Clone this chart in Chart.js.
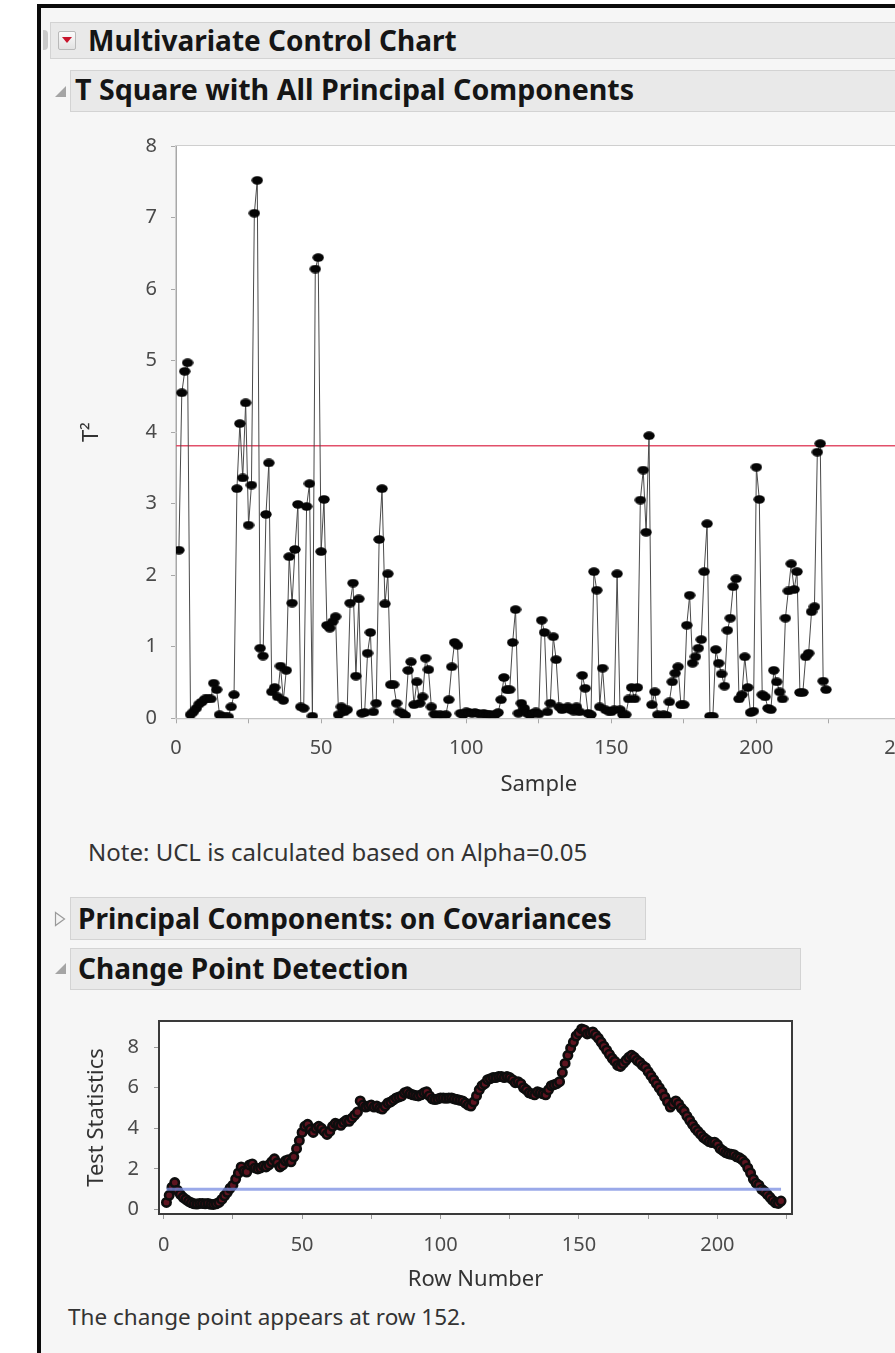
<!DOCTYPE html>
<html>
<head>
<meta charset="utf-8">
<script src="https://cdn.jsdelivr.net/npm/chart.js@4.4.1/dist/chart.umd.min.js"></script>
<style>
  html, body { margin: 0; padding: 0; width: 895px; height: 1353px; overflow: hidden; background: #ffffff; font-family: "Noto Sans", "Open Sans", sans-serif; }
  .abs { position: absolute; }
  #frame { left: 37px; top: 4px; width: 900px; height: 1400px; border-left: 4px solid #0b0b0b; border-top: 4px solid #0b0b0b; background: #f6f6f6; }
  .bar { position: absolute; background: #e9e9e9; border: 1px solid #d3d3d3; box-sizing: border-box; font-weight: 700; color: #151515; white-space: nowrap; line-height: 1; font-size: 28px; }
  .bar span { position: absolute; left: 6px; top: 50%; transform: translateY(-55%); }
  .note { position: absolute; color: #333; line-height: 1; white-space: nowrap; }
  canvas { position: absolute; }
</style>
</head>
<body>
<div id="frame" class="abs"></div>

<!-- report outline headers -->
<div class="abs" style="left:43px;top:30px;width:5px;height:20px;background:#c9c9c9;border-radius:0 4px 4px 0;"></div>
<div class="bar" style="left:50px;top:22px;width:860px;height:37px;">
  <span style="left:37px;">Multivariate Control Chart</span>
</div>
<div class="abs" style="left:58px;top:31px;width:16px;height:17px;border:1px solid #b9b9b9;border-radius:2px;background:linear-gradient(#fbfbfb,#e2e2e2);"></div>
<div class="abs" style="left:62px;top:37px;width:0;height:0;border-left:5px solid transparent;border-right:5px solid transparent;border-top:6px solid #c8142c;"></div>

<div class="abs" style="left:55px;top:86px;width:0;height:0;border-left:11px solid transparent;border-bottom:11px solid #a5a5a5;"></div>
<div class="bar" style="left:70px;top:70px;width:840px;height:42px;font-size:28.6px;">
  <span style="left:4px;">T Square with All Principal Components</span>
</div>

<div class="note" style="left:88px;top:840px;font-size:24px;">Note: UCL is calculated based on Alpha=0.05</div>

<svg class="abs" style="left:54px;top:911px;" width="12" height="16"><polygon points="1.5,1.5 10.5,8 1.5,14.5" fill="#f4f4f4" stroke="#9a9a9a" stroke-width="1.2"/></svg>
<div class="bar" style="left:70px;top:897px;width:576px;height:43px;">
  <span style="left:7px;">Principal Components: on Covariances</span>
</div>

<div class="abs" style="left:55px;top:963px;width:0;height:0;border-left:11px solid transparent;border-bottom:11px solid #a5a5a5;"></div>
<div class="bar" style="left:70px;top:948px;width:731px;height:42px;">
  <span style="left:7px;">Change Point Detection</span>
</div>

<div class="note" style="left:68px;top:1306px;font-size:22.5px;">The change point appears at row 152.</div>

<canvas id="tsq" style="left:40px;top:120px;" width="910" height="700"></canvas>
<canvas id="cpd" style="left:40px;top:995px;" width="800" height="300"></canvas>

<script>
// T-square statistic for samples 1..224
const tSquare = [
  2.35, 4.55, 4.85, 4.97, 0.05, 0.09, 0.14, 0.20, 0.23, 0.27,
  0.28, 0.27, 0.49, 0.40, 0.05, 0.02, 0.02, 0.02, 0.16, 0.33,
  3.21, 4.12, 3.36, 4.41, 2.70, 3.26, 7.06, 7.52, 0.98, 0.87,
  2.85, 3.57, 0.37, 0.43, 0.30, 0.73, 0.25, 0.67, 2.26, 1.61,
  2.36, 2.99, 0.16, 0.14, 2.96, 3.28, 0.03, 6.28, 6.44, 2.33,
  3.06, 1.30, 1.26, 1.35, 1.42, 0.05, 0.16, 0.09, 0.12, 1.61,
  1.89, 0.59, 1.67, 0.07, 0.08, 0.91, 1.20, 0.09, 0.21, 2.50,
  3.21, 1.60, 2.02, 0.47, 0.47, 0.21, 0.09, 0.07, 0.04, 0.67,
  0.79, 0.19, 0.51, 0.21, 0.30, 0.84, 0.68, 0.16, 0.06, 0.03,
  0.05, 0.04, 0.05, 0.26, 0.72, 1.06, 1.02, 0.07, 0.05, 0.09,
  0.08, 0.07, 0.08, 0.07, 0.06, 0.07, 0.05, 0.06, 0.04, 0.05,
  0.08, 0.26, 0.57, 0.40, 0.40, 1.06, 1.52, 0.07, 0.21, 0.14,
  0.07, 0.05, 0.07, 0.09, 0.06, 1.37, 1.20, 0.09, 0.21, 1.14,
  0.82, 0.16, 0.12, 0.14, 0.16, 0.12, 0.10, 0.16, 0.09, 0.60,
  0.42, 0.07, 0.05, 2.05, 1.79, 0.16, 0.70, 0.12, 0.10, 0.09,
  0.12, 2.02, 0.12, 0.05, 0.05, 0.27, 0.43, 0.27, 0.43, 3.05,
  3.47, 2.60, 3.95, 0.19, 0.37, 0.05, 0.03, 0.05, 0.04, 0.23,
  0.51, 0.63, 0.72, 0.19, 0.19, 1.30, 1.72, 0.77, 0.86, 0.98,
  1.10, 2.05, 2.72, 0.03, 0.03, 0.96, 0.77, 0.62, 0.45, 1.23,
  1.40, 1.84, 1.95, 0.27, 0.33, 0.86, 0.43, 0.08, 0.10, 3.51,
  3.06, 0.33, 0.30, 0.14, 0.12, 0.67, 0.51, 0.37, 0.27, 1.40,
  1.78, 2.16, 1.80, 2.05, 0.36, 0.36, 0.86, 0.91, 1.49, 1.56,
  3.72, 3.84, 0.52, 0.40
];
const tSquareUCL = 3.81;
const sampleTicks = [0, 25, 50, 75, 100, 125, 150, 175, 200, 225, 250];
const tSquareTicks = [0, 1, 2, 3, 4, 5, 6, 7, 8];

// change point test statistic for rows 1..223
const testStatistic = [
  0.35, 0.70, 1.10, 1.33, 0.95, 0.75, 0.60, 0.50, 0.40, 0.33,
  0.28, 0.27, 0.30, 0.30, 0.28, 0.30, 0.26, 0.25, 0.28, 0.35,
  0.50, 0.68, 0.85, 1.05, 1.20, 1.50, 1.80, 2.10, 1.90, 1.85,
  2.20, 2.25, 2.05, 2.00, 2.05, 2.15, 2.10, 2.20, 2.35, 2.50,
  2.30, 2.10, 2.20, 2.40, 2.45, 2.35, 2.60, 3.00, 3.40, 3.80,
  4.10, 4.20, 3.95, 3.80, 4.00, 4.10, 4.00, 3.85, 3.70, 3.85,
  4.10, 4.25, 4.20, 4.15, 4.30, 4.40, 4.35, 4.50, 4.65, 4.80,
  5.35, 5.15, 5.05, 5.10, 5.15, 5.05, 5.10, 5.00, 4.95, 5.10,
  5.25, 5.30, 5.40, 5.50, 5.55, 5.60, 5.75, 5.80, 5.70, 5.65,
  5.62, 5.60, 5.65, 5.75, 5.80, 5.60, 5.45, 5.42, 5.45, 5.50,
  5.50, 5.48, 5.50, 5.50, 5.45, 5.42, 5.38, 5.35, 5.25, 5.15,
  5.10, 5.30, 5.60, 5.90, 6.10, 6.20, 6.40, 6.45, 6.50, 6.50,
  6.55, 6.55, 6.50, 6.55, 6.50, 6.40, 6.25, 6.30, 6.20, 6.00,
  5.90, 5.75, 5.70, 5.65, 5.80, 5.75, 5.70, 5.65, 5.90, 6.10,
  6.15, 6.20, 6.30, 6.75, 7.20, 7.60, 7.95, 8.25, 8.55, 8.70,
  8.90, 8.85, 8.65, 8.70, 8.75, 8.60, 8.45, 8.25, 8.05, 7.85,
  7.65, 7.45, 7.30, 7.10, 7.05, 7.20, 7.35, 7.50, 7.60, 7.50,
  7.35, 7.25, 7.10, 7.00, 6.80, 6.60, 6.40, 6.20, 6.00, 5.80,
  5.55, 5.30, 5.05, 5.20, 5.35, 5.20, 5.00, 4.85, 4.60, 4.40,
  4.20, 4.00, 3.85, 3.70, 3.55, 3.45, 3.35, 3.30, 3.32, 3.20,
  3.00, 2.90, 2.80, 2.75, 2.72, 2.70, 2.60, 2.55, 2.45, 2.30,
  2.05, 1.80, 1.50, 1.30, 1.20, 1.00, 0.90, 0.75, 0.60, 0.45,
  0.33, 0.30, 0.42
];
const changeThreshold = 1.0;
const rowTicks = [0, 25, 50, 75, 100, 125, 150, 175, 200, 225];
const statTicks = [0, 1, 2, 3, 4, 5, 6, 7, 8, 9];

const FONT = '"Noto Sans", "Open Sans", sans-serif';

// paints the plot background and an outline around the chart area
const plotFrame = {
  id: 'plotFrame',
  beforeDraw(chart) {
    const { ctx, chartArea: a } = chart;
    ctx.save();
    ctx.fillStyle = '#ffffff';
    ctx.fillRect(a.left, a.top, a.right - a.left, a.bottom - a.top);
    ctx.restore();
  },
  afterDraw(chart, args, opts) {
    const { ctx, chartArea: a } = chart;
    ctx.save();
    ctx.strokeStyle = opts.color;
    ctx.lineWidth = opts.width;
    const h = opts.width / 2;
    ctx.strokeRect(a.left - h, a.top - h, a.right - a.left + opts.width, a.bottom - a.top + opts.width);
    ctx.restore();
  }
};

// flattened round marker used for the T-square points
function ovalMarker(w, h, fill) {
  const c = document.createElement('canvas');
  c.width = w; c.height = h;
  const g = c.getContext('2d');
  g.fillStyle = fill;
  g.beginPath();
  g.ellipse(w / 2, h / 2, w / 2 - 0.3, h / 2 - 0.3, 0, 0, Math.PI * 2);
  g.fill();
  return c;
}

function fixedTicks(values) {
  return scale => { scale.ticks = values.map(v => ({ value: v })); };
}

// T-square control chart
new Chart(document.getElementById('tsq'), {
  type: 'line',
  data: {
    datasets: [
      {
        data: tSquare.map((v, i) => ({ x: i + 1, y: v })),
        borderColor: '#4a4a4a',
        borderWidth: 1,
        pointStyle: ovalMarker(12, 9, '#050505'),
        pointRadius: 5,
        tension: 0,
        clip: 0
      },
      {
        data: [{ x: 0, y: tSquareUCL }, { x: 250, y: tSquareUCL }],
        borderColor: '#e2506a',
        borderWidth: 1.5,
        pointRadius: 0,
        clip: 0
      }
    ]
  },
  options: {
    responsive: false,
    animation: false,
    events: [],
    layout: { padding: { top: 23.5, right: 48.5, left: 0, bottom: 0 } },
    plugins: { legend: { display: false }, tooltip: { enabled: false }, plotFrame: { color: '#cfcfcf', width: 1 } },
    scales: {
      x: {
        type: 'linear', min: 0, max: 250,
        afterBuildTicks: fixedTicks(sampleTicks),
        afterFit: s => { s.height = 101.7; },
        grid: { drawOnChartArea: false, tickLength: 5, color: '#a8a8a8' },
        border: { color: '#a8a8a8' },
        ticks: { padding: 12.5, color: '#4a4a4a', font: { family: FONT, size: 20 }, maxRotation: 0, autoSkip: false,
                 callback: v => (v % 50 === 0 ? String(v) : '') },
        title: { display: true, text: 'Sample', color: '#333', font: { family: FONT, size: 22 }, padding: { bottom: 22 } }
      },
      y: {
        type: 'linear', min: 0, max: 8,
        afterBuildTicks: fixedTicks(tSquareTicks),
        afterFit: s => { s.width = 136; },
        grid: { drawOnChartArea: false, tickLength: 5, color: '#a8a8a8' },
        border: { color: '#a8a8a8' },
        ticks: { padding: 14, color: '#4a4a4a', font: { family: FONT, size: 20 } },
        title: { display: true, text: 'T²', color: '#333', font: { family: FONT, size: 22 }, padding: { top: 39 } }
      }
    }
  },
  plugins: [plotFrame]
});

// change point detection chart
new Chart(document.getElementById('cpd'), {
  type: 'line',
  data: {
    datasets: [
      {
        data: [{ x: 1, y: changeThreshold }, { x: 223, y: changeThreshold }],
        borderColor: 'rgba(120,140,225,0.75)',
        borderWidth: 3,
        pointRadius: 0
      },
      {
        data: testStatistic.map((v, i) => ({ x: i + 1, y: v })),
        borderColor: '#c86a78',
        borderWidth: 1,
        pointRadius: 4.2,
        pointBorderWidth: 2.6,
        pointBorderColor: '#0d0d0d',
        pointBackgroundColor: '#5e1420',
        tension: 0
      }
    ]
  },
  options: {
    responsive: false,
    animation: false,
    events: [],
    layout: { padding: { top: 11, right: 49, left: 0, bottom: 0 } },
    plugins: { legend: { display: false }, tooltip: { enabled: false }, plotFrame: { color: '#3a3a3a', width: 2 } },
    scales: {
      x: {
        type: 'linear', min: -1.33, max: 226.6,
        afterBuildTicks: fixedTicks(rowTicks),
        afterFit: s => { s.height = 82; },
        grid: { drawOnChartArea: false, tickLength: 6, color: '#9a9a9a' },
        border: { display: false },
        ticks: { padding: 14, color: '#4a4a4a', font: { family: FONT, size: 20 }, maxRotation: 0, autoSkip: false,
                 callback: v => (v % 50 === 0 ? String(v) : '') },
        title: { display: true, text: 'Row Number', color: '#333', font: { family: FONT, size: 22 }, padding: { bottom: 2 } }
      },
      y: {
        type: 'linear', min: -0.17, max: 9.24,
        afterBuildTicks: fixedTicks(statTicks),
        afterFit: s => { s.width = 120; },
        grid: { drawOnChartArea: false, tickLength: 6, color: '#9a9a9a' },
        border: { display: false },
        ticks: { padding: 15, color: '#4a4a4a', font: { family: FONT, size: 20 },
                 callback: v => (v % 2 === 0 ? String(v) : '') },
        title: { display: true, text: 'Test Statistics', color: '#333', font: { family: FONT, size: 22 }, padding: { top: 44 } }
      }
    }
  },
  plugins: [plotFrame]
});
</script>
</body>
</html>
